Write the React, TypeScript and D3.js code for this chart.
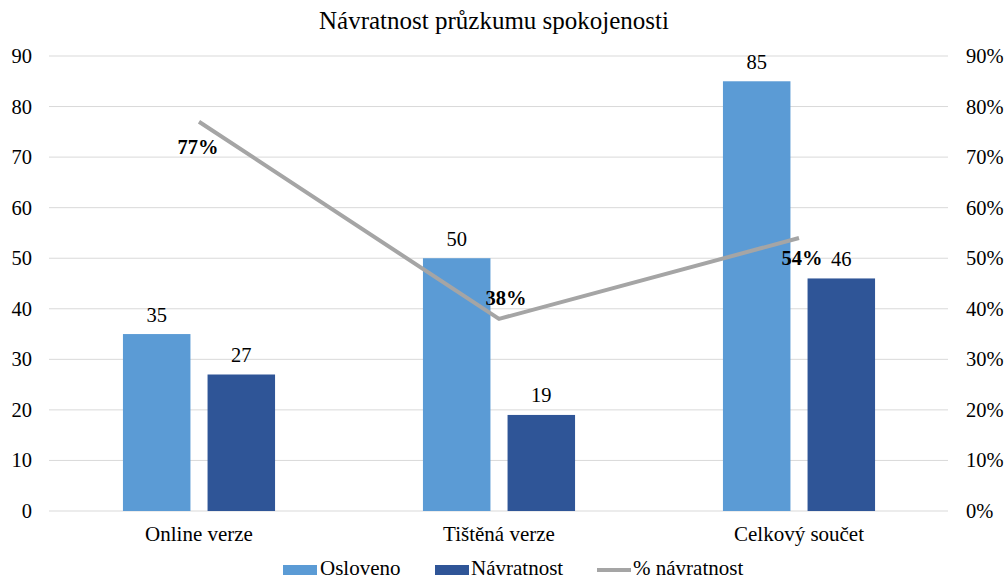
import React from "react";
import * as d3 from "d3";

const categories = ["Online verze", "Tištěná verze", "Celkový součet"];
const osloveno = [35, 50, 85];
const navratnost = [27, 19, 46];
const procento = [0.77, 0.38, 0.54];
const procentoLabels = ["77%", "38%", "54%"];
const leftTicks = [0, 10, 20, 30, 40, 50, 60, 70, 80, 90];
const rightTicks = [0, 0.1, 0.2, 0.3, 0.4, 0.5, 0.6, 0.7, 0.8, 0.9];
const seriesNames = ["Osloveno", "Návratnost", "% návratnost"];

// label placement offsets (style)
const pctLabelOffsets = [
  { dx: -1, dy: 32 },
  { dx: 7, dy: -14 },
  { dx: 3, dy: 27 },
];

const W = 1007;
const H = 580;
const FONT = "Liberation Serif";
const C1 = "#5B9BD5";
const C2 = "#2F5597";
const C3 = "#A5A5A5";

export default function App() {
  const x = d3.scaleBand<string>().domain(categories).range([49, 949]);
  const y = d3.scaleLinear().domain([0, 90]).range([511, 56]);
  const yr = d3.scaleLinear().domain([0, 0.9]).range([511, 56]);
  const bw = x.bandwidth() * 0.225;
  const gap = x.bandwidth() * 0.057;
  const cx = (c: string) => (x(c) as number) + x.bandwidth() / 2;

  const line = d3
    .line<number>()
    .x((_, i) => cx(categories[i]))
    .y((d) => yr(d));

  const fmtPct = d3.format(".0%");

  return (
    <div style={{ position: "fixed", left: 0, top: 0 }}>
      <svg width={W} height={H} style={{ display: "block", background: "#fff", fontFamily: FONT }}>
        <rect width={W} height={H} fill="#fff" />
        <text x={494} y={29} textAnchor="middle" fontSize={25} fill="#000">
          Návratnost průzkumu spokojenosti
        </text>
        {leftTicks.map((t) => (
          <g key={"g" + t}>
            <line x1={49} x2={948} y1={y(t)} y2={y(t)} stroke="#D9D9D9" strokeWidth={1} />
            <text x={32} y={y(t)} textAnchor="end" dominantBaseline="central" fontSize={20.5} fill="#000">
              {t}
            </text>
          </g>
        ))}
        {rightTicks.map((t) => (
          <text key={"r" + t} x={966} y={yr(t)} textAnchor="start" dominantBaseline="central" fontSize={20.5} fill="#000">
            {fmtPct(t)}
          </text>
        ))}
        {categories.map((c, i) => {
          const center = cx(c);
          const x1 = center - gap / 2 - bw;
          const x2 = center + gap / 2;
          return (
            <g key={c}>
              <rect x={x1} y={y(osloveno[i])} width={bw} height={y(0) - y(osloveno[i])} fill={C1} />
              <rect x={x2} y={y(navratnost[i])} width={bw} height={y(0) - y(navratnost[i])} fill={C2} />
              <text x={x1 + bw / 2} y={y(osloveno[i]) - 12.5} textAnchor="middle" fontSize={20.5} fill="#000">
                {osloveno[i]}
              </text>
              <text x={x2 + bw / 2} y={y(navratnost[i]) - 12.5} textAnchor="middle" fontSize={20.5} fill="#000">
                {navratnost[i]}
              </text>
              <text x={center} y={541} textAnchor="middle" fontSize={21} fill="#000">
                {c}
              </text>
            </g>
          );
        })}
        <path d={line(procento) || ""} fill="none" stroke={C3} strokeWidth={4} strokeLinejoin="round" />
        {procento.map((p, i) => (
          <text
            key={"p" + i}
            x={cx(categories[i]) + pctLabelOffsets[i].dx}
            y={yr(p) + pctLabelOffsets[i].dy}
            textAnchor="middle"
            fontSize={20.5}
            fontWeight="bold"
            fill="#000"
          >
            {procentoLabels[i]}
          </text>
        ))}
        <g>
          <rect x={283} y={565} width={34} height={10} fill={C1} />
          <text x={320} y={574.5} fontSize={21} fill="#000">
            {seriesNames[0]}
          </text>
          <rect x={435} y={565} width={34} height={10} fill={C2} />
          <text x={471} y={574.5} fontSize={21} fill="#000">
            {seriesNames[1]}
          </text>
          <line x1={597} x2={631} y1={570} y2={570} stroke={C3} strokeWidth={4} />
          <text x={633} y={574.5} fontSize={21} fill="#000">
            {seriesNames[2]}
          </text>
        </g>
      </svg>
    </div>
  );
}
